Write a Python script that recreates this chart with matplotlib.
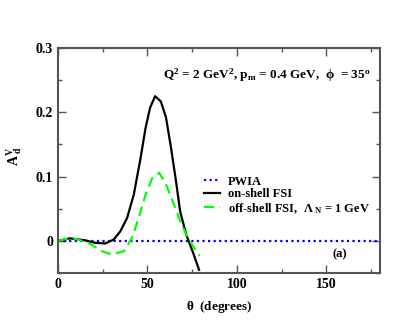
import matplotlib
matplotlib.use("Agg")
import matplotlib.pyplot as plt
import numpy as np

plt.rcParams['font.family'] = ['Liberation Serif', 'DejaVu Serif']
plt.rcParams['font.weight'] = 'bold'
plt.rcParams['axes.labelweight'] = 'bold'
plt.rcParams['mathtext.fontset'] = 'custom'
plt.rcParams['mathtext.rm'] = 'Liberation Serif:bold'
plt.rcParams['mathtext.it'] = 'Liberation Serif:bold'
plt.rcParams['mathtext.bf'] = 'Liberation Serif:bold'

# on-shell FSI (black)
theta_on = [0, 6.6, 15.1, 20.8, 26.4, 31.1, 34.9, 38.7, 42.4, 46.2, 49, 51.5, 54.3,
            57.5, 60.4, 63.2, 66, 68.3, 71.7, 75.5, 78.9]
a_on = [0.0, 0.004, 0.001, -0.003, -0.004, 0.002, 0.015, 0.036, 0.072, 0.129, 0.176, 0.207, 0.225,
        0.217, 0.192, 0.145, 0.093, 0.046, 0.010, -0.018, -0.045]

# off-shell FSI (green)
theta_off = [0, 7.5, 17, 24.5, 30.2, 36.8, 41.5, 45.2, 49, 52.8, 56.6, 60.4, 64.1, 68.3,
             71.7, 75.5, 79.2]
a_off = [0.0, 0.005, -0.003, -0.016, -0.021, -0.016, 0.005, 0.036, 0.072, 0.098, 0.106, 0.088,
         0.062, 0.031, 0.010, -0.008, -0.023]

# PWIA (blue)
theta_pwia = [0, 180]
a_pwia = [0, 0]

fig = plt.figure(figsize=(4.17, 3.22), dpi=100)
ax = fig.add_axes([0.139, 0.152, 0.772, 0.699])

ax.plot(theta_pwia, a_pwia, color='#0000ff', ls=(0, (1, 1.5)), lw=1.6, label='PWIA')
ax.plot(theta_on, a_on, color='black', lw=1.6, label='on-shell FSI')
ax.plot(theta_off, a_off, color='#00ff00', ls=(0, (4.5, 2.5)), lw=1.6,
        label=r'off-shell FSI,  $\Lambda_{\ N}$ = 1 GeV')

ax.set_xlim(0, 180)
ax.set_ylim(-0.05, 0.3)
ax.set_xticks([0, 50, 100, 150])
ax.set_xticks([25, 75, 125, 175], minor=True)
ax.set_yticks([0, 0.1, 0.2, 0.3])
ax.set_yticklabels(['0', '0.1', '0.2', '0.3'])
ax.set_yticks([-0.05, 0.05, 0.15, 0.25], minor=True)
ax.tick_params(which='both', direction='in', top=True, right=True, labelsize=10, color='#555555')
ax.tick_params(which='major', length=6, width=1)
ax.tick_params(which='minor', length=3, width=1)
for s in ax.spines.values():
    s.set_color('#555555')
    s.set_linewidth(1.5)

ax.set_xlabel(r'$\theta$  (degrees)', fontsize=9.5, fontweight='bold', labelpad=6)
ax.set_ylabel(r'$\mathrm{A}^{\mathrm{V}}_{\ \mathrm{d}}$', fontsize=10)
ax.yaxis.set_label_coords(-0.105, 0.52)

ax.text(0.97, 0.88, r'Q$^2$ = 2 GeV$^2$, p$_\mathrm{m}$ = 0.4 GeV,  $\phi$  = 35$^\mathrm{o}$',
        transform=ax.transAxes, ha='right', va='center', fontsize=9.5)
ax.text(0.876, 0.085, '(a)', transform=ax.transAxes, ha='center', va='center', fontsize=9)

ax.legend(loc='upper left', bbox_to_anchor=(0.435, 0.46), frameon=False, fontsize=9,
          handlelength=1.3, handletextpad=0.6, labelspacing=0.05, borderpad=0)

fig.savefig('out.png', dpi=100)
